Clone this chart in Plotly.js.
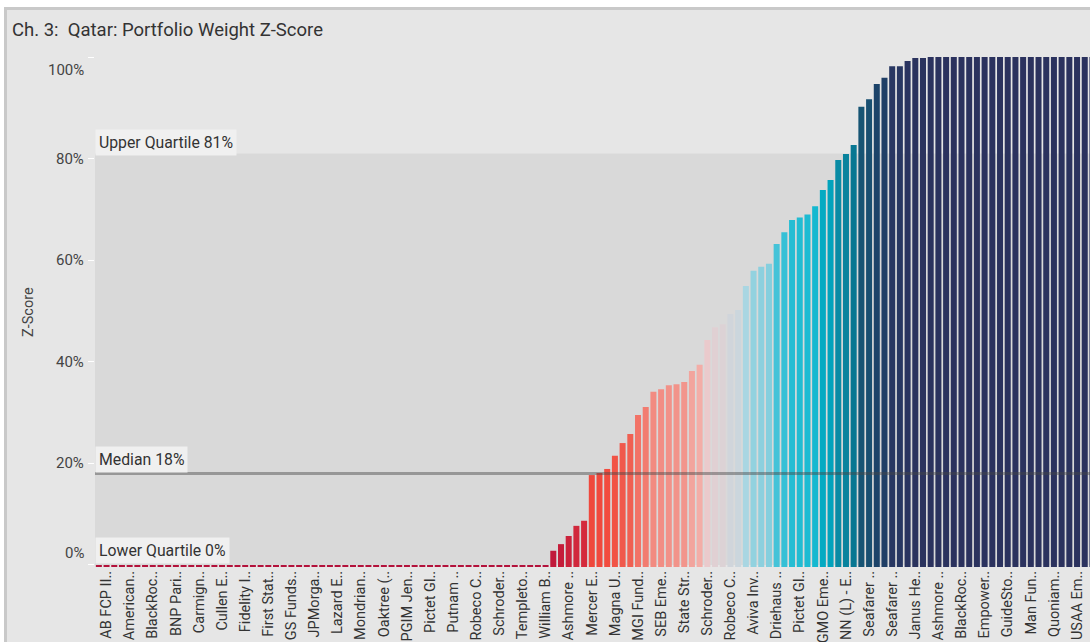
<!DOCTYPE html>
<html>
<head>
<meta charset="utf-8">
<script src="https://cdn.plot.ly/plotly-3.0.1.min.js"></script>
<style>
  html, body { margin: 0; padding: 0; background: #ffffff; overflow: hidden; width: 1090px; height: 642px; }
  #frame { position: absolute; left: 4px; top: 7px; width: 1110px; height: 700px; border: 3px solid #c9c9c9; background: #e6e6e6; }
  #chart { position: absolute; left: 0px; top: 0px; width: 1100px; height: 690px; }
</style>
</head>
<body>
<div id="frame"><div id="chart"></div></div>
<script>
// ---- data ----
const chartTitle = "Ch. 3:  Qatar: Portfolio Weight Z-Score";
const yTitle = "Z-Score";
const tickLabels = [
  "AB FCP II..", "American..", "BlackRoc..", "BNP Pari..", "Carmign..", "Cullen E..",
  "Fidelity I..", "First Stat..", "GS Funds..", "JPMorga..", "Lazard E..", "Mondrian..",
  "Oaktree (..", "PGIM Jen..", "Pictet Gl..", "Putnam ..", "Robeco C..", "Schroder..",
  "Templeto..", "William B..", "Ashmore ..", "Mercer E..", "Magna U..", "MGI Fund..",
  "SEB Eme..", "State Str..", "Schroder..", "Robeco C..", "Aviva Inv..", "Driehaus ..",
  "Pictet Gl..", "GMO Eme..", "NN (L) - E..", "Seafarer ..", "Seafarer ..", "Janus He..",
  "Ashmore ..", "BlackRoc..", "Empower..", "GuideSto..", "Man Fun..", "Quoniam..", "USAA Em.."
];
const zeroFunds = [0,0,0,0,0,0,0,0,0,0, 0,0,0,0,0,0,0,0,0,0,
                   0,0,0,0,0,0,0,0,0,0, 0,0,0,0,0,0,0,0,0,0,
                   0,0,0,0,0,0,0,0,0,0, 0,0,0,0,0,0,0,0,0];
const risingFunds = [0.028, 0.041, 0.057, 0.077, 0.087, 0.177, 0.181, 0.189, 0.215, 0.240,
                     0.258, 0.295, 0.311, 0.341, 0.346, 0.354, 0.356, 0.360, 0.382, 0.394,
                     0.443, 0.468, 0.474, 0.494, 0.502, 0.549, 0.579, 0.587, 0.593, 0.632,
                     0.655, 0.679, 0.684, 0.690, 0.706, 0.738, 0.758, 0.797, 0.809, 0.827,
                     0.902, 0.917, 0.947, 0.959, 0.982, 0.982, 0.992, 0.998, 0.998];
const topFunds = [1,1,1,1,1,1,1,1,1,1, 1,1,1,1,1,1,1,1,1,1, 1,1,1];
const yTicks = [0, 0.2, 0.4, 0.6, 0.8, 1.0];
const yTickText = ["0%", "20%", "40%", "60%", "80%", "100%"];
const lowerQuartile = 0.0, median = 0.18, upperQuartile = 0.81;

// ---- build ----
const values = zeroFunds.concat(risingFunds, topFunds);
const idx = values.map((v, i) => i);
const tickIdx = tickLabels.map((t, k) => 1 + 3 * k);
const baseOff = -0.004;

const colorscale = [
  [0.00, '#b3123b'], [0.03, '#c21a3a'], [0.09, '#d52c3c'], [0.17, '#ee463b'],
  [0.19, '#f24c3f'], [0.25, '#f05c4e'], [0.30, '#f2766a'], [0.34, '#f28a80'],
  [0.37, '#f29a92'], [0.395, '#f3aea8'], [0.44, '#ebc9cb'], [0.47, '#dfd1d4'],
  [0.50, '#ccd6dd'], [0.55, '#a8d6e2'], [0.59, '#8ad0de'], [0.63, '#46c3d8'],
  [0.68, '#24bdd3'], [0.71, '#12b7cf'], [0.74, '#02a9c1'], [0.76, '#01a2bb'],
  [0.80, '#0a89a2'], [0.83, '#087590'], [0.90, '#165575'], [0.95, '#1c4268'],
  [0.98, '#283862'], [1.00, '#2b325e']
];

const trace = {
  type: 'bar',
  x: idx,
  y: values.map(v => v - baseOff),
  base: baseOff,
  marker: { color: values, colorscale: colorscale, cmin: 0, cmax: 1, line: { width: 0 } },
  hoverinfo: 'skip'
};

const labelFont = { family: 'Roboto, sans-serif', size: 15.8, color: '#333333' };
const annotations = [
  { xref: 'paper', yref: 'y', x: 0, y: upperQuartile, xanchor: 'left', yanchor: 'bottom', yshift: -2,
    text: 'Upper Quartile 81%', showarrow: false, bgcolor: '#f0f0f0', borderpad: 3, font: labelFont },
  { xref: 'paper', yref: 'y', x: 0, y: median, xanchor: 'left', yanchor: 'bottom', yshift: 1,
    text: 'Median 18%', showarrow: false, bgcolor: '#f0f0f0', borderpad: 3, font: labelFont },
  { xref: 'paper', yref: 'y', x: 0, y: lowerQuartile, xanchor: 'left', yanchor: 'bottom', yshift: 1,
    text: 'Lower Quartile 0%', showarrow: false, bgcolor: '#f0f0f0', borderpad: 3, font: labelFont },
  { xref: 'paper', yref: 'paper', x: 0, y: 0.5, xanchor: 'center', yanchor: 'middle', xshift: -67,
    text: yTitle, textangle: -90, showarrow: false,
    font: { family: 'Roboto, sans-serif', size: 14.5, color: '#444444' } }
];
yTicks.forEach((t, k) => {
  let ys = 0;
  if (k === 0) ys = 12;
  if (k === yTicks.length - 1) ys = -13;
  annotations.push({ xref: 'paper', yref: 'y', x: 0, y: t, xanchor: 'right', yanchor: 'middle',
    xshift: -9, yshift: ys, text: yTickText[k], showarrow: false,
    font: { family: 'Roboto, sans-serif', size: 15, color: '#444444' } });
});

const layout = {
  width: 1100, height: 690,
  margin: { l: 88, r: 3, t: 47, b: 133 },
  paper_bgcolor: '#e6e6e6', plot_bgcolor: '#e6e6e6',
  showlegend: false,
  bargap: 0.22,
  title: { text: chartTitle, xref: 'container', yref: 'container', x: 5 / 1100, xanchor: 'left',
           y: 1 - 20 / 690, yanchor: 'middle',
           font: { family: 'Roboto, sans-serif', size: 18.5, color: '#333333' } },
  xaxis: {
    range: [-0.5, values.length - 0.5], tickmode: 'array', tickvals: tickIdx, ticktext: tickLabels,
    tickangle: -90, ticks: '', showgrid: false, zeroline: false, showline: false,
    tickfont: { family: 'Roboto, sans-serif', size: 14.5, color: '#333333' }, fixedrange: true
  },
  yaxis: {
    range: [baseOff, 1.0], tickmode: 'array', tickvals: yTicks, ticks: 'outside', ticklen: 6,
    tickcolor: '#ffffff', tickwidth: 1, showticklabels: false, showgrid: false, zeroline: false,
    showline: false, fixedrange: true
  },
  shapes: [
    { type: 'rect', xref: 'paper', yref: 'y', x0: 0, x1: 1, y0: lowerQuartile, y1: upperQuartile,
      fillcolor: '#d9d9d9', line: { width: 0 }, layer: 'below' },
    { type: 'line', xref: 'paper', yref: 'y', x0: 0, x1: 1, y0: median, y1: median,
      line: { color: 'rgba(70,70,70,0.45)', width: 3 }, layer: 'above' }
  ],
  annotations: annotations
};

Plotly.newPlot('chart', [trace], layout, { displayModeBar: false, staticPlot: true });
</script>
</body>
</html>
